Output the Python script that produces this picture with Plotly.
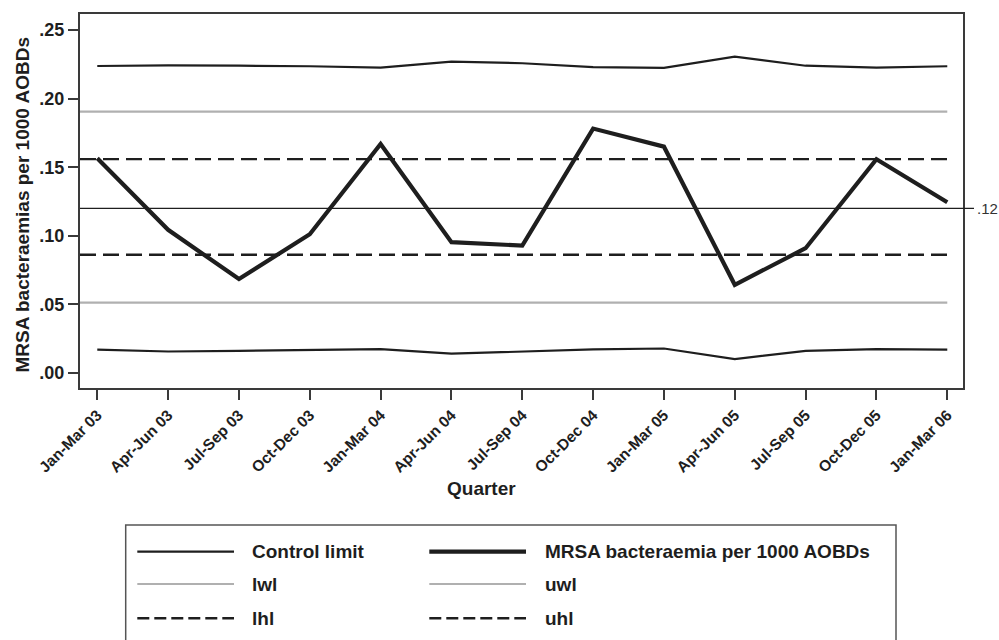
import plotly.graph_objects as go

# ---- data ---------------------------------------------------------------
quarters = ["Jan-Mar 03", "Apr-Jun 03", "Jul-Sep 03", "Oct-Dec 03",
            "Jan-Mar 04", "Apr-Jun 04", "Jul-Sep 04", "Oct-Dec 04",
            "Jan-Mar 05", "Apr-Jun 05", "Jul-Sep 05", "Oct-Dec 05",
            "Jan-Mar 06"]
mrsa_rate = [0.1566, 0.1044, 0.0685, 0.1012, 0.1670, 0.0954, 0.0929,
             0.1782, 0.1650, 0.0643, 0.0910, 0.1559, 0.1245]
upper_control = [0.2238, 0.2243, 0.2240, 0.2236, 0.2226, 0.2270, 0.2258,
                 0.2230, 0.2224, 0.2306, 0.2240, 0.2226, 0.2236]
lower_control = [0.0170, 0.0157, 0.0162, 0.0170, 0.0175, 0.0141, 0.0155,
                 0.0172, 0.0179, 0.0102, 0.0162, 0.0175, 0.0170]
uwl_value = 0.1905
lwl_value = 0.0514
uhl_value = 0.1559
lhl_value = 0.0862
centre_value = 0.12
centre_label = ".12"
y_ticks = [0.00, 0.05, 0.10, 0.15, 0.20, 0.25]
y_tick_labels = [".00", ".05", ".10", ".15", ".20", ".25"]
y_title = "MRSA bacteraemias per 1000 AOBDs"
x_title = "Quarter"
legend_names = ["Control limit", "MRSA bacteraemia per 1000 AOBDs",
                "lwl", "uwl", "lhl", "uhl"]

# ---- layout geometry (pixels) -------------------------------------------
W, H = 999, 640
L, R, T, B = 80, 36, 14, 252
PW, PH = W - L - R, H - T - B
X_RANGE = [-0.244, 12.222]
Y_RANGE = [-0.0109, 0.2617]

FONT = "Liberation Sans, Arial, Helvetica, sans-serif"
INK = "#1e1e1e"
FRAME = "#3a3a3a"
GREY = "#b0b0b0"


def px_x(p):
    return (p - L) / PW


def px_y(p):
    return (H - B - p) / PH


idx = list(range(len(quarters)))
last = idx[-1]

styles = {
    "Control limit": dict(color=INK, width=2.2, dash="solid"),
    "MRSA bacteraemia per 1000 AOBDs": dict(color=INK, width=4.2, dash="solid"),
    "lwl": dict(color=GREY, width=2.2, dash="solid"),
    "uwl": dict(color=GREY, width=2.2, dash="solid"),
    "lhl": dict(color=INK, width=2.4, dash="16px,7px"),
    "uhl": dict(color=INK, width=2.4, dash="16px,7px"),
}

fig = go.Figure()

# constant warning / alert limits run from the left edge to the last quarter
for name, val in [("uwl", uwl_value), ("lwl", lwl_value),
                  ("uhl", uhl_value), ("lhl", lhl_value)]:
    fig.add_trace(go.Scatter(x=[X_RANGE[0], last], y=[val, val], mode="lines",
                             name=name, line=styles[name], showlegend=False,
                             hoverinfo="skip"))

# control limits
for series in (upper_control, lower_control):
    fig.add_trace(go.Scatter(x=idx, y=series, mode="lines",
                             name="Control limit",
                             line=styles["Control limit"], showlegend=False))

# observed rate
fig.add_trace(go.Scatter(x=idx, y=mrsa_rate, mode="lines",
                         name="MRSA bacteraemia per 1000 AOBDs",
                         line=styles["MRSA bacteraemia per 1000 AOBDs"],
                         showlegend=False))

# centre line, continued a little past the right frame as a tick
fig.add_shape(type="line", xref="paper", yref="y", x0=0, x1=px_x(974),
              y0=centre_value, y1=centre_value,
              line=dict(color=INK, width=1.2), layer="above")

annotations = [dict(text=centre_label, xref="paper", yref="y",
                    x=px_x(975), y=centre_value, xanchor="left",
                    yanchor="middle", showarrow=False,
                    font=dict(family=FONT, size=15, color="#333333"))]

# ---- legend drawn as a framed key below the plot ------------------------
shapes = [dict(type="rect", xref="paper", yref="paper",
               x0=px_x(125.7), x1=px_x(896), y0=px_y(525), y1=px_y(660),
               line=dict(color="#555555", width=1.5),
               fillcolor="rgba(0,0,0,0)", layer="above")]
col_line = [(137.3, 234.0), (429.3, 526.0)]
col_text = [250.0, 542.7]
row_y = [551.7, 584.0, 618.3]
for k, name in enumerate(legend_names):
    col, row = k % 2, k // 2
    st = dict(styles[name])
    if st["dash"] != "solid":
        st["dash"] = "12px,5px"
    shapes.append(dict(type="line", xref="paper", yref="paper",
                       x0=px_x(col_line[col][0]), x1=px_x(col_line[col][1]),
                       y0=px_y(row_y[row]), y1=px_y(row_y[row]), line=st))
    annotations.append(dict(text=name, xref="paper", yref="paper",
                            x=px_x(col_text[col]), y=px_y(row_y[row]),
                            xanchor="left", yanchor="middle", showarrow=False,
                            font=dict(family=FONT, size=19, color=INK,
                                      weight="bold")))

# axis titles
annotations.append(dict(text=y_title, xref="paper", yref="paper",
                        x=px_x(21.5), y=px_y(205), textangle=-90,
                        xanchor="center", yanchor="middle", showarrow=False,
                        font=dict(family=FONT, size=19, color=INK,
                                  weight="bold")))
annotations.append(dict(text=x_title, xref="paper", yref="paper",
                        x=px_x(481), y=px_y(488.5),
                        xanchor="center", yanchor="middle", showarrow=False,
                        font=dict(family=FONT, size=19, color=INK,
                                  weight="bold")))

for s in shapes:
    fig.add_shape(s)

fig.update_layout(
    width=W, height=H,
    margin=dict(l=L, r=R, t=T, b=B, pad=0),
    paper_bgcolor="white", plot_bgcolor="white",
    showlegend=False,
    annotations=annotations,
    xaxis=dict(range=X_RANGE, tickmode="array", tickvals=idx,
               ticktext=quarters, tickangle=-45, ticks="outside",
               ticklen=10, tickwidth=1.6, tickcolor=FRAME,
               tickfont=dict(family=FONT, size=15.5, color=INK, weight="bold"),
               showline=True, linecolor=FRAME, linewidth=2, mirror=True,
               showgrid=False, zeroline=False, fixedrange=True),
    yaxis=dict(range=Y_RANGE, tickmode="array", tickvals=y_ticks,
               ticktext=y_tick_labels, ticks="outside", ticklen=10,
               tickwidth=1.6, tickcolor=FRAME,
               tickfont=dict(family=FONT, size=18, color=INK, weight="bold"),
               showline=True, linecolor=FRAME, linewidth=2, mirror=True,
               showgrid=False, zeroline=False, fixedrange=True),
)

fig.write_html("out.html")
